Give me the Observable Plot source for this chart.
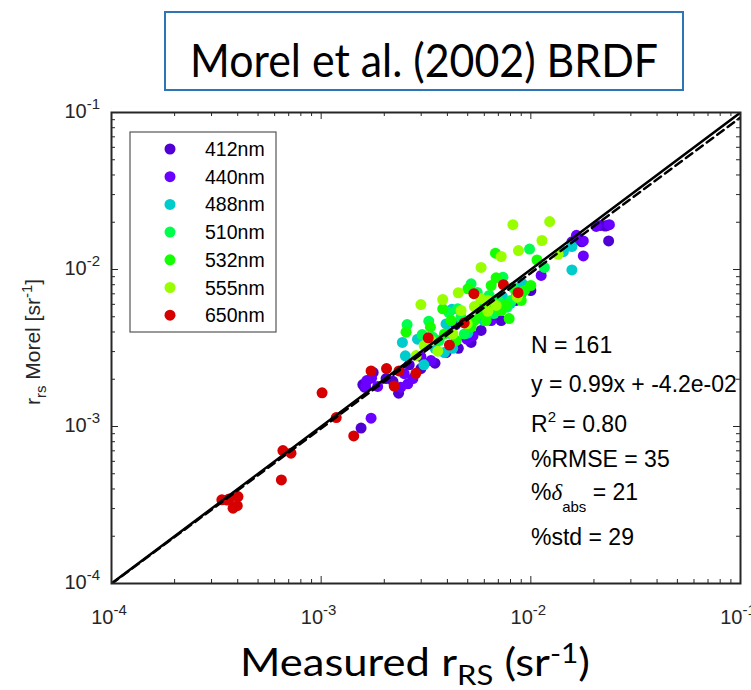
<!DOCTYPE html>
<html><head><meta charset="utf-8">
<script src="https://cdn.jsdelivr.net/npm/d3@7"></script>
<script src="https://cdn.jsdelivr.net/npm/@observablehq/plot@0.6"></script>
<style>body{margin:0;background:#fff;} #chart{width:751px;height:690px;}</style>
</head><body><div id="chart"></div>
<script>
const wavelengths = ["412nm","440nm","488nm","510nm","532nm","555nm","650nm"];
const colors = ["#5000d4","#6a00ff","#00cccc","#00ff4c","#14ff00","#99ff00","#d60000"];

const measured412 = [1.55e-3,1.58e-3,2.20e-3,2.34e-3,2.63e-3,3.49e-3,4.51e-3,2.15e-2,2.26e-2,2.35e-2,4.37e-3,1.61e-3,1.77e-3,2.99e-3,3.94e-3,5.79e-3,7.22e-3,8.51e-3,1.00e-2,1.75e-2,2.30e-2,5.19e-3,2.04e-3];
const morel412    = [9.78e-4,1.85e-3,1.94e-3,1.63e-3,2.47e-3,2.53e-3,3.15e-3,1.91e-2,1.89e-2,1.52e-2,4.44e-3,1.78e-3,2.21e-3,2.34e-3,2.96e-3,4.09e-3,4.73e-3,6.35e-3,7.35e-3,1.50e-2,1.90e-2,3.43e-3,2.02e-3];
const measured440 = [1.73e-3,1.63e-3,1.74e-3,1.86e-3,2.40e-3,2.59e-3,2.49e-3,4.95e-3,5.30e-3,1.57e-2,1.78e-2,1.78e-2,2.37e-2,9.16e-3,2.99e-3,1.65e-3,2.74e-3,3.34e-3,4.17e-3,6.47e-3,1.12e-2,1.65e-2,2.05e-2];
const morel440    = [1.13e-3,1.80e-3,2.03e-3,1.80e-3,1.78e-3,1.87e-3,2.17e-3,3.60e-3,3.78e-3,1.50e-2,1.52e-2,1.22e-2,1.93e-2,7.96e-3,2.79e-3,1.96e-3,2.02e-3,2.63e-3,3.28e-3,4.73e-3,9.16e-3,1.65e-2,1.88e-2];
const measured488 = [2.44e-3,2.52e-3,2.88e-3,3.09e-3,3.87e-3,3.94e-3,4.20e-3,4.24e-3,5.98e-3,6.63e-3,1.57e-2,1.57e-2,1.43e-2,8.95e-3,6.83e-3,5.00e-3,4.08e-3,5.59e-3,7.32e-3,9.08e-3,4.67e-3,3.49e-3,8.00e-3];
const morel488    = [3.43e-3,2.82e-3,3.60e-3,2.47e-3,2.96e-3,4.50e-3,5.58e-3,3.15e-3,4.73e-3,5.26e-3,9.93e-3,1.40e-2,1.30e-2,6.88e-3,6.39e-3,3.93e-3,3.93e-3,5.80e-3,6.72e-3,8.17e-3,4.78e-3,3.15e-3,6.09e-3];
const measured510 = [2.57e-3,3.26e-3,3.03e-3,4.48e-3,5.19e-3,7.36e-3,9.86e-3,1.16e-2,7.71e-3,4.65e-3,4.82e-3,3.41e-3,5.90e-3,8.75e-3,6.68e-3,8.06e-3,6.33e-3,3.65e-3,8.24e-3,5.79e-3,6.99e-3,5.55e-3,4.07e-3];
const morel510    = [4.46e-3,4.69e-3,3.85e-3,5.62e-3,8.11e-3,8.93e-3,1.35e-2,1.03e-2,5.75e-3,4.97e-3,3.89e-3,3.70e-3,5.22e-3,6.72e-3,5.26e-3,6.35e-3,6.83e-3,3.53e-3,7.68e-3,6.35e-3,6.35e-3,7.14e-3,5.32e-3];
const measured532 = [2.54e-3,3.32e-3,3.80e-3,5.01e-3,6.83e-3,6.78e-3,1.07e-2,9.33e-3,7.22e-3,5.19e-3,3.87e-3,6.24e-3,5.38e-3,7.59e-3,5.72e-3,8.51e-3,4.17e-3,6.12e-3,1.00e-2,4.40e-3,7.88e-3,9.00e-3,6.47e-3];
const morel532    = [3.99e-3,4.29e-3,5.62e-3,7.53e-3,8.85e-3,1.27e-2,1.15e-2,7.35e-3,5.48e-3,4.29e-3,3.89e-3,6.05e-3,4.73e-3,5.94e-3,5.26e-3,7.14e-3,4.73e-3,4.73e-3,7.91e-3,3.53e-3,4.87e-3,6.35e-3,7.91e-3];
const measured555 = [2.99e-3,3.80e-3,4.51e-3,5.79e-3,7.22e-3,8.73e-3,1.13e-2,8.21e-3,1.23e-2,1.35e-2,5.79e-3,6.24e-3,5.38e-3,2.84e-3,3.60e-3,3.10e-3,8.61e-3,4.97e-3,4.25e-3,6.25e-3,4.65e-3,6.83e-3,3.34e-3];
const morel555    = [5.98e-3,6.44e-3,7.11e-3,1.03e-2,1.21e-2,1.32e-2,1.53e-2,1.93e-2,2.02e-2,1.25e-2,6.51e-3,5.42e-3,5.81e-3,2.83e-3,3.02e-3,3.28e-3,6.66e-3,4.51e-3,3.89e-3,6.35e-3,5.48e-3,5.90e-3,3.53e-3];
const measured650 = [3.36e-4,3.64e-4,4.01e-4,3.80e-4,3.98e-4,3.56e-4,6.46e-4,6.57e-4,7.18e-4,1.01e-3,1.18e-3,1.43e-3,1.73e-3,2.05e-3,2.23e-3,2.35e-3,2.83e-3,3.24e-3,4.09e-3,4.81e-3,5.35e-3,7.40e-3,8.69e-3];
const morel650    = [3.41e-4,3.45e-4,3.58e-4,3.02e-4,3.13e-4,3.40e-4,4.57e-4,7.03e-4,6.76e-4,1.64e-3,1.14e-3,8.71e-4,2.26e-3,2.34e-3,1.81e-3,2.26e-3,2.18e-3,3.67e-3,3.30e-3,4.57e-3,7.02e-3,8.00e-3,7.12e-3];

const fitSlope = 0.99, fitIntercept = -0.042;
const lineRange = [1e-4, 1e-1];
const majorTicks = [1e-4, 1e-3, 1e-2, 1e-1];
const tickExponents = ["-4", "-3", "-2", "-1"];
const minorMantissas = [2,3,4,5,6,7,8,9];
const statLines = ["N = 161", "y = 0.99x + -4.2e-02", "R2 = 0.80", "%RMSE = 35", "%δabs = 21", "%std = 29"];

const measuredAll = [measured412, measured440, measured488, measured510, measured532, measured555, measured650];
const morelAll = [morel412, morel440, morel488, morel510, morel532, morel555, morel650];
const points = [];
wavelengths.forEach((w, i) => measuredAll[i].forEach((m, j) => points.push({band: w, measured: m, morel: morelAll[i][j]})));
const oneToOne = lineRange.map(v => ({x: v, y: v}));
const fitLine = lineRange.map(v => ({x: v, y: Math.pow(10, fitSlope * Math.log10(v) + fitIntercept)}));
const minorTicks = majorTicks.slice(0, 3).flatMap(d => minorMantissas.map(m => m * d));

const W = 751, H = 690, mT = 112, mB = 107, mL = 111, mR = 11;
const fH = H - mT - mB, fW = W - mL - mR;
const ax = "#262626";
const majLen = 7, minLen = 4;

const plot = Plot.plot({
  width: W, height: H,
  marginTop: mT, marginBottom: mB, marginLeft: mL, marginRight: mR,
  x: {type: "log", domain: [1e-4, 1e-1], axis: null},
  y: {type: "log", domain: [1e-4, 1e-1], axis: null},
  color: {domain: wavelengths, range: colors},
  style: {background: "white"},
  marks: [
    Plot.dot(points, {x: "measured", y: "morel", fill: "band", r: 5.5, stroke: "none", fillOpacity: 1}),
    Plot.line(fitLine, {x: "x", y: "y", stroke: "black", strokeWidth: 2.5, strokeDasharray: "8,5", clip: true}),
    Plot.line(oneToOne, {x: "x", y: "y", stroke: "black", strokeWidth: 2.5, clip: true}),
    Plot.tickX(majorTicks, {x: d => d, insetTop: fH - majLen, stroke: ax}),
    Plot.tickX(majorTicks, {x: d => d, insetBottom: fH - majLen, stroke: ax}),
    Plot.tickX(minorTicks, {x: d => d, insetTop: fH - minLen, stroke: ax}),
    Plot.tickX(minorTicks, {x: d => d, insetBottom: fH - minLen, stroke: ax}),
    Plot.tickY(majorTicks, {y: d => d, insetRight: fW - majLen, stroke: ax}),
    Plot.tickY(majorTicks, {y: d => d, insetLeft: fW - majLen, stroke: ax}),
    Plot.tickY(minorTicks, {y: d => d, insetRight: fW - minLen, stroke: ax}),
    Plot.tickY(minorTicks, {y: d => d, insetLeft: fW - minLen, stroke: ax}),
    Plot.frame({stroke: ax, strokeWidth: 2})
  ]
});
document.getElementById("chart").appendChild(plot);

const svg = d3.select(plot);
const sx = plot.scale("x"), sy = plot.scale("y");
const arial = "'Liberation Sans', Arial, sans-serif";
const calibri = "Lato, 'Open Sans', sans-serif";

function rich(parent, x, y, parts, attrs) {
  const t = parent.append("text").attr("x", x).attr("y", y).attr("text-anchor", "start");
  for (const k in attrs) t.attr(k, attrs[k]);
  let cur = 0;
  for (const p of parts) {
    const s = t.append("tspan").text(p.t);
    const shift = p.shift || 0;
    s.attr("dy", shift - cur); cur = shift;
    if (p.size) s.attr("font-size", p.size);
    if (p.style) s.attr("font-style", p.style);
    if (p.family) s.attr("font-family", p.family);
  }
  return t;
}

// tick labels
majorTicks.forEach((v, i) => {
  rich(svg, sx.apply(v) - 2, 624, [{t: "10"}, {t: tickExponents[i], shift: -9, size: 15}],
    {"text-anchor": "middle", "font-size": 20, "font-family": arial, fill: "#262626"});
  rich(svg, 100, sy.apply(v) + 6, [{t: "10"}, {t: tickExponents[i], shift: -9, size: 15}],
    {"text-anchor": "end", "font-size": 20, "font-family": arial, fill: "#262626"});
});

// y label
const yl = svg.append("g").attr("transform", "translate(40,342) rotate(-90)");
rich(yl, 0, 0, [{t: "r"}, {t: "rs", shift: 6, size: 15}, {t: " Morel [sr", shift: 0}, {t: "-1", shift: -8, size: 15}, {t: "]", shift: 0}],
  {"text-anchor": "middle", "font-size": 21, "font-family": arial, fill: "#262626"});

// x label
rich(svg, 415, 676, [{t: "Measured r"}, {t: "RS", shift: 9, size: 27}, {t: " (sr", shift: 0}, {t: "-1", shift: -13, size: 26}, {t: ")", shift: 0}],
  {"text-anchor": "middle", "font-size": 38, "font-family": calibri, fill: "#000", textLength: 350, lengthAdjust: "spacingAndGlyphs"});

// title box
svg.append("rect").attr("x", 165).attr("y", 12).attr("width", 518).attr("height", 78)
  .attr("fill", "white").attr("stroke", "#2e75b6").attr("stroke-width", 2);
svg.append("text").attr("x", 424).attr("y", 77).attr("text-anchor", "middle")
  .attr("font-family", calibri).attr("font-size", 46).attr("textLength", 468).attr("lengthAdjust", "spacingAndGlyphs")
  .text("Morel et al. (2002) BRDF");

// legend
const lg = svg.append("g");
lg.append("rect").attr("x", 130).attr("y", 132).attr("width", 146).attr("height", 200)
  .attr("fill", "white").attr("stroke", "#555").attr("stroke-width", 1.2);
wavelengths.forEach((w, i) => {
  const cy = 149 + i * 27.7;
  lg.append("circle").attr("cx", 170).attr("cy", cy).attr("r", 5.5).attr("fill", colors[i]);
  lg.append("text").attr("x", 205).attr("y", cy + 7).attr("text-anchor", "start").attr("font-family", arial).attr("font-size", 19.5)
    .attr("fill", "#000").text(w);
});

// stats
const st = {"font-size": 23, "font-family": arial, fill: "#000"};
rich(svg, 531, 353, [{t: statLines[0]}], st);
rich(svg, 531, 392, [{t: statLines[1]}], st);
rich(svg, 531, 432, [{t: "R"}, {t: "2", shift: -10, size: 15}, {t: " = 0.80", shift: 0}], st);
rich(svg, 531, 467, [{t: statLines[3]}], st);
rich(svg, 531, 500, [{t: "%"}, {t: "δ", style: "italic", family: "'Liberation Serif', serif"}, {t: "abs", shift: 12, size: 15}, {t: " = 21", shift: 0}], st);
rich(svg, 531, 545, [{t: statLines[5]}], st);
</script></body></html>
